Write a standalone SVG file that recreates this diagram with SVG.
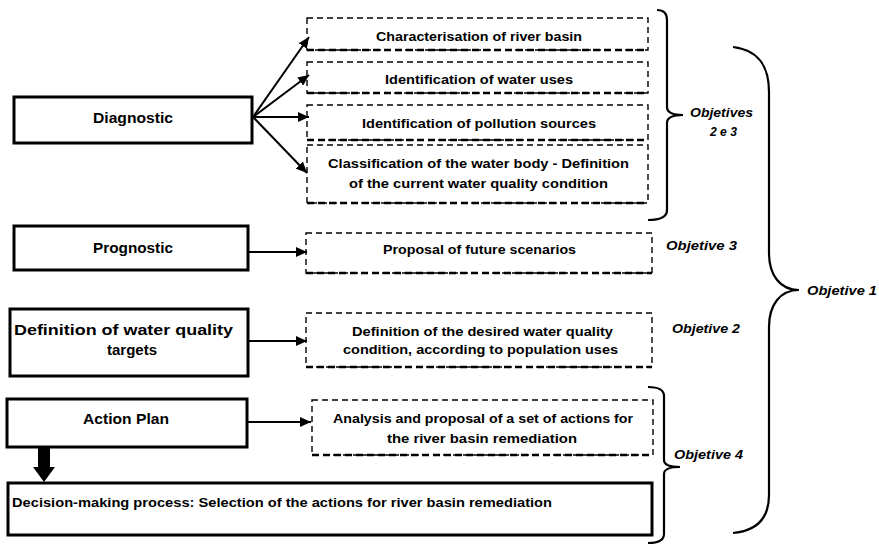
<svg xmlns="http://www.w3.org/2000/svg" width="879" height="545" viewBox="0 0 879 545">
<style>
.solid{fill:#fff;stroke:#000;stroke-width:3}
.dash{fill:#fff;stroke:#000;stroke-width:1.4;stroke-dasharray:6,4}
.dashb{stroke:#000;stroke-width:2.6;stroke-dasharray:7,4;fill:none}
.t{font-family:"Liberation Sans",Arial,sans-serif;font-weight:bold;fill:#000}
.h{font-size:15px}
.b{font-size:12.5px}
.o{font-family:"Liberation Sans",Arial,sans-serif;font-weight:bold;font-style:italic;font-size:13px;fill:#000}
.c{stroke:#000;stroke-width:2;fill:none}
.br{stroke:#000;stroke-width:2.2;fill:none}
</style>
<defs>
<marker id="ah" markerUnits="userSpaceOnUse" markerWidth="12" markerHeight="10" refX="11" refY="5" orient="auto">
<path d="M0,0 L11,5 L0,10 Z" fill="#000"/>
</marker>
</defs>
<rect width="879" height="545" fill="#fff"/>

<g id="diagnostic">
<rect class="solid" x="14" y="97" width="238" height="46"/>
<text class="t h" x="93" y="123" textLength="80" lengthAdjust="spacingAndGlyphs">Diagnostic</text>
</g>
<g id="characterisation">
<rect class="dash" x="307" y="18" width="341" height="32"/>
<line class="dashb" x1="307" y1="50" x2="648" y2="50"/>
<text class="t b" x="376" y="41" textLength="206" lengthAdjust="spacingAndGlyphs">Characterisation of river basin</text>
</g>
<g id="water-uses">
<rect class="dash" x="307" y="62" width="341" height="31"/>
<line class="dashb" x1="307" y1="93" x2="648" y2="93"/>
<text class="t b" x="385" y="84" textLength="188" lengthAdjust="spacingAndGlyphs">Identification of water uses</text>
</g>
<g id="pollution-sources">
<rect class="dash" x="307" y="105" width="341" height="35"/>
<line class="dashb" x1="307" y1="140" x2="648" y2="140"/>
<text class="t b" x="362" y="128" textLength="234" lengthAdjust="spacingAndGlyphs">Identification of pollution sources</text>
</g>
<g id="classification">
<rect class="dash" x="307" y="145" width="341" height="58"/>
<line class="dashb" x1="307" y1="203" x2="648" y2="203"/>
<text class="t b" x="328" y="168" textLength="301" lengthAdjust="spacingAndGlyphs">Classification of the water body - Definition</text>
<text class="t b" x="349" y="188" textLength="259" lengthAdjust="spacingAndGlyphs">of the current water quality condition</text>
</g>

<g id="prognostic">
<rect class="solid" x="14" y="226" width="234" height="44"/>
<text class="t h" x="93" y="253" textLength="80" lengthAdjust="spacingAndGlyphs">Prognostic</text>
</g>
<g id="future-scenarios">
<rect class="dash" x="306" y="233" width="346" height="40"/>
<line class="dashb" x1="306" y1="273" x2="652" y2="273"/>
<text class="t b" x="383" y="254" textLength="193" lengthAdjust="spacingAndGlyphs">Proposal of future scenarios</text>
</g>

<g id="targets">
<rect class="solid" x="10" y="309" width="238" height="67"/>
<text class="t h" x="14" y="335" textLength="219" lengthAdjust="spacingAndGlyphs">Definition of water quality</text>
<text class="t h" x="132" y="355" text-anchor="middle">targets</text>
</g>
<g id="desired-condition">
<rect class="dash" x="306" y="313" width="346" height="54"/>
<line class="dashb" x1="306" y1="367" x2="652" y2="367"/>
<text class="t b" x="352" y="336" textLength="261" lengthAdjust="spacingAndGlyphs">Definition of the desired water quality</text>
<text class="t b" x="343" y="354" textLength="275" lengthAdjust="spacingAndGlyphs">condition, according to population uses</text>
</g>

<g id="action-plan">
<rect class="solid" x="7" y="399" width="240" height="48"/>
<text class="t h" x="83" y="424" textLength="86" lengthAdjust="spacingAndGlyphs">Action Plan</text>
</g>
<g id="analysis">
<rect class="dash" x="312" y="400" width="341" height="55"/>
<line class="dashb" x1="312" y1="455" x2="653" y2="455"/>
<text class="t b" x="333" y="423" textLength="300" lengthAdjust="spacingAndGlyphs">Analysis and proposal of a set of actions for</text>
<text class="t b" x="387" y="443" textLength="190" lengthAdjust="spacingAndGlyphs">the river basin remediation</text>
</g>

<g id="decision">
<rect class="solid" x="8" y="483" width="644" height="52"/>
<text class="t" font-size="13.5" x="12" y="507" textLength="540" lengthAdjust="spacingAndGlyphs">Decision-making process: Selection of the actions for river basin remediation</text>
</g>

<g id="connectors">
<line class="c" x1="253" y1="117" x2="309" y2="37" marker-end="url(#ah)"/>
<line class="c" x1="253" y1="117" x2="309" y2="75" marker-end="url(#ah)"/>
<line class="c" x1="253" y1="117" x2="309" y2="117" marker-end="url(#ah)"/>
<line class="c" x1="253" y1="117" x2="307" y2="173" marker-end="url(#ah)"/>
<line class="c" x1="249" y1="252" x2="307" y2="252" marker-end="url(#ah)"/>
<line class="c" x1="249" y1="341" x2="307" y2="341" marker-end="url(#ah)"/>
<line class="c" x1="248" y1="422" x2="311" y2="422" marker-end="url(#ah)"/>
<polygon points="38,448 50,448 50,467 55,467 44,482 33,467 38,467" fill="#000"/>
</g>

<g id="brace-objetives-2-3">
<path class="br" d="M657,10 Q667,10 667,20 L667,107 Q667,115 683,115 Q667,115 667,123 L667,210 Q667,220 648,220"/>
<text class="o" x="690" y="117" textLength="63" lengthAdjust="spacingAndGlyphs">Objetives</text>
<text class="o" x="710" y="136" textLength="27" lengthAdjust="spacingAndGlyphs">2 e 3</text>
</g>
<g id="label-objetive-3">
<text class="o" x="666" y="250" textLength="71" lengthAdjust="spacingAndGlyphs">Objetive 3</text>
</g>
<g id="label-objetive-2">
<text class="o" x="672" y="333" textLength="68" lengthAdjust="spacingAndGlyphs">Objetive 2</text>
</g>
<g id="brace-objetive-4">
<path class="br" d="M648,387 Q664,387 664,396 L664,460 Q664,467 680,467 Q664,467 664,474 L664,534 Q664,543 648,543"/>
<text class="o" x="674" y="459" textLength="69" lengthAdjust="spacingAndGlyphs">Objetive 4</text>
</g>
<g id="brace-objetive-1">
<path class="br" d="M733,47 C758,50 769,65 769,92 L769,253 C769,275 780,290 799,290 C780,290 769,305 769,327 L769,495 C769,520 755,531 733,533"/>
<text class="o" x="807" y="295" textLength="70" lengthAdjust="spacingAndGlyphs">Objetive 1</text>
</g>
</svg>
